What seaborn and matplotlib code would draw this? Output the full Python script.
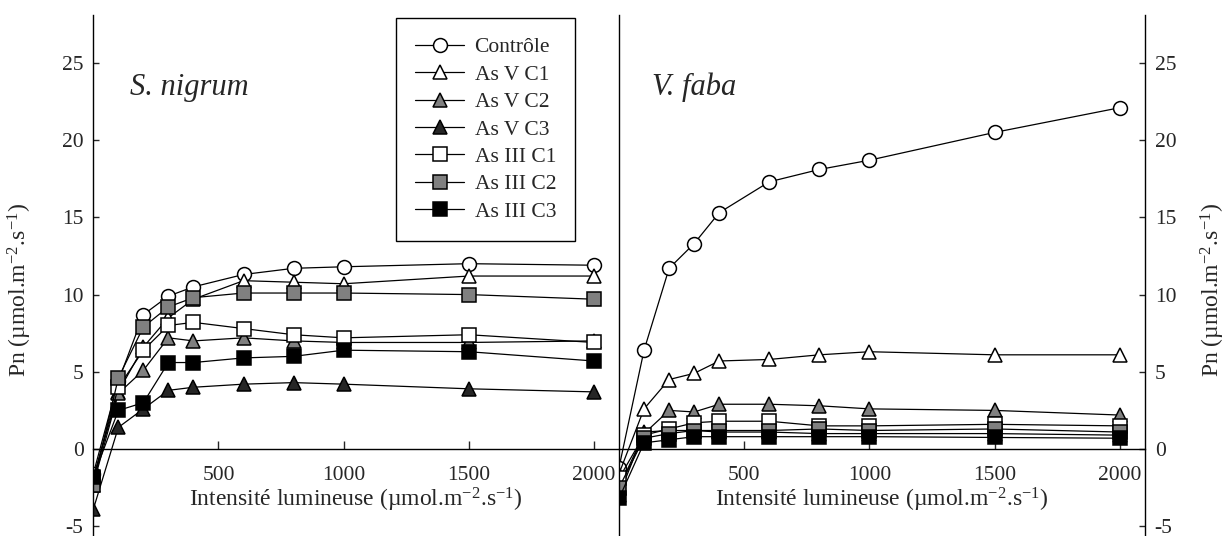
import matplotlib
matplotlib.use('Agg')
import matplotlib.pyplot as plt
import seaborn as sns
import numpy as np

# light intensity levels (µmol.m-2.s-1)
intensite = [0, 100, 200, 300, 400, 600, 800, 1000, 1500, 2000]

# S. nigrum
sn_controle = [-1.6, 4.4, 8.7, 9.9, 10.5, 11.3, 11.7, 11.8, 12.0, 11.9]
sn_asv_c1 = [-1.9, 3.7, 6.6, 8.5, 9.7, 10.9, 10.8, 10.7, 11.2, 11.2]
sn_asv_c2 = [-2.3, 3.6, 5.1, 7.2, 7.0, 7.2, 7.0, 6.9, 6.9, 7.0]
sn_asv_c3 = [-3.9, 1.4, 2.6, 3.8, 4.0, 4.2, 4.3, 4.2, 3.9, 3.7]
sn_asiii_c1 = [-1.9, 4.0, 6.4, 8.0, 8.2, 7.8, 7.4, 7.2, 7.4, 6.9]
sn_asiii_c2 = [-2.3, 4.6, 7.9, 9.2, 9.8, 10.1, 10.1, 10.1, 10.0, 9.7]
sn_asiii_c3 = [-1.8, 2.5, 3.0, 5.6, 5.6, 5.9, 6.0, 6.4, 6.3, 5.7]

# V. faba
vf_controle = [-1.2, 6.4, 11.7, 13.3, 15.3, 17.3, 18.1, 18.7, 20.5, 22.1]
vf_asv_c1 = [-1.6, 2.6, 4.5, 4.9, 5.7, 5.8, 6.1, 6.3, 6.1, 6.1]
vf_asv_c2 = [-2.5, 1.0, 2.5, 2.4, 2.9, 2.9, 2.8, 2.6, 2.5, 2.2]
vf_asv_c3 = [-3.0, 1.1, 1.2, 1.2, 1.1, 1.1, 1.0, 1.0, 1.0, 0.9]
vf_asiii_c1 = [-1.9, 0.9, 1.3, 1.7, 1.8, 1.8, 1.5, 1.5, 1.6, 1.5]
vf_asiii_c2 = [-2.5, 0.7, 1.0, 1.2, 1.2, 1.2, 1.3, 1.2, 1.3, 1.1]
vf_asiii_c3 = [-3.2, 0.4, 0.6, 0.8, 0.8, 0.8, 0.8, 0.8, 0.75, 0.7]

noms = ['Contrôle', 'As V C1', 'As V C2', 'As V C3', 'As III C1', 'As III C2', 'As III C3']
sn_series = [sn_controle, sn_asv_c1, sn_asv_c2, sn_asv_c3, sn_asiii_c1, sn_asiii_c2, sn_asiii_c3]
vf_series = [vf_controle, vf_asv_c1, vf_asv_c2, vf_asv_c3, vf_asiii_c1, vf_asiii_c2, vf_asiii_c3]

# marker style per treatment
marqueurs = ['o', '^', '^', '^', 's', 's', 's']
remplis = ['white', 'white', '#808080', '#262626', 'white', '#808080', 'black']
tailles = [10, 10.5, 10.5, 10.5, 9.5, 9.5, 9.5]

sns.set_style('ticks')
plt.rcParams['font.family'] = ['Liberation Serif', 'DejaVu Serif']
plt.rcParams['mathtext.fontset'] = 'custom'
plt.rcParams['mathtext.rm'] = 'Liberation Serif'
plt.rcParams['mathtext.it'] = 'Liberation Serif:italic'
plt.rcParams['axes.unicode_minus'] = False

fs = 15.5
fs_lab = 17
fig = plt.figure(figsize=(12.26, 5.36), dpi=100)
ax1 = fig.add_axes([93.3 / 1226, 0, 525.7 / 1226, 521 / 536])
ax2 = fig.add_axes([619 / 1226, 0, 526 / 1226, 521 / 536])

for ax, series in [(ax1, sn_series), (ax2, vf_series)]:
    for nom, y, m, fc, ms in zip(noms, series, marqueurs, remplis, tailles):
        sns.lineplot(x=intensite, y=y, ax=ax, color='black', linewidth=0.9,
                     marker=m, markersize=ms, markerfacecolor=fc,
                     markeredgecolor='black', markeredgewidth=1.1, label=nom,
                     legend=False)
    ax.set_xlim(0, 2100)
    ax.set_ylim(-5.63, 28.1)
    ax.set_facecolor('none')
    ax.spines['bottom'].set_position(('data', 0))
    ax.spines['top'].set_visible(False)
    ax.set_xticks([500, 1000, 1500, 2000])
    ax.set_yticks([-5, 0, 5, 10, 15, 20, 25])
    ax.tick_params(axis='x', direction='in', length=6, width=1, pad=12, labelsize=fs)
    ax.tick_params(axis='y', direction='in', length=4.5, width=1, pad=7, labelsize=fs)
    for sp in ax.spines.values():
        sp.set_linewidth(1)
        sp.set_color('black')
    ax.set_xlabel('')
    ax.set_ylabel('')
    ax.text(0.5, 0.0557, 'Intensité lumineuse (µmol.m$^{-2}$.s$^{-1}$)',
            transform=ax.transAxes, ha='center', va='baseline', fontsize=fs_lab)

ax1.spines['right'].set_visible(False)
ax2.yaxis.tick_right()
ax2.tick_params(axis='y', left=False, right=True)

ax1.text(0.069, 0.846, 'S. nigrum', transform=ax1.transAxes, fontsize=22,
         style='italic', ha='left', va='baseline')
ax2.text(0.063, 0.846, 'V. faba', transform=ax2.transAxes, fontsize=22,
         style='italic', ha='left', va='baseline')

fig.text(20 / 1226, 1 - 290 / 536, 'Pn (µmol.m$^{-2}$.s$^{-1}$)', rotation=90,
         ha='center', va='center', fontsize=fs_lab)
fig.text(1213 / 1226, 1 - 290 / 536, 'Pn (µmol.m$^{-2}$.s$^{-1}$)', rotation=90,
         ha='center', va='center', fontsize=fs_lab)

h, l = ax1.get_legend_handles_labels()
leg = fig.legend(h[:7], l[:7], loc='upper left',
                 bbox_to_anchor=(396 / 1226, 1 - 18 / 536),
                 fontsize=fs, frameon=True, fancybox=False, edgecolor='black',
                 framealpha=1, handlelength=2.25, labelspacing=0.34,
                 borderpad=0.9, handletextpad=0.5, borderaxespad=0)
leg.get_frame().set_linewidth(1)

fig.savefig('out.png', dpi=100)
